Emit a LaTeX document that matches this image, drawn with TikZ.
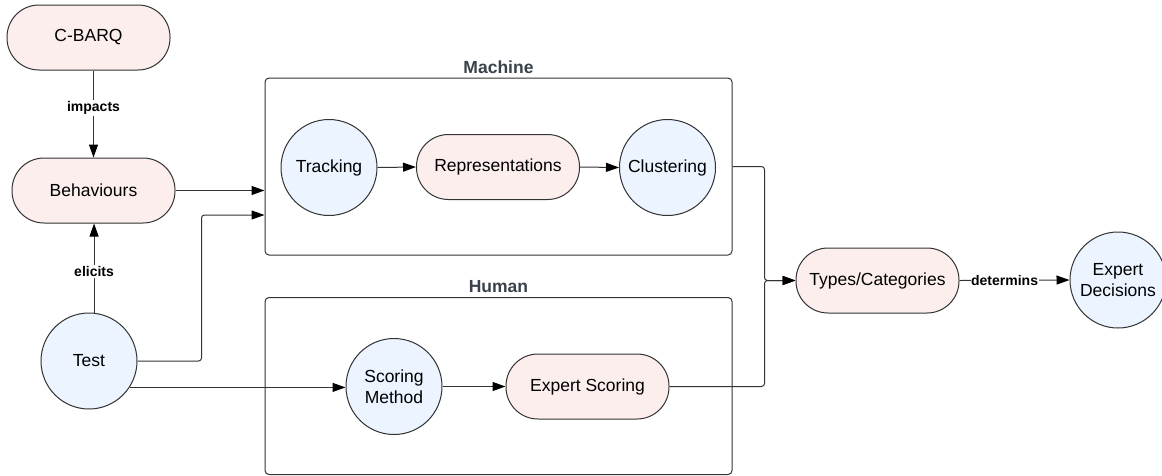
\documentclass[tikz,border=0pt]{standalone}
\usepackage{fontspec}
\setmainfont{Liberation Sans}
\usetikzlibrary{arrows.meta,calc}
\definecolor{pinkfill}{HTML}{FDEEEE}
\definecolor{bluefill}{HTML}{EBF4FF}
\definecolor{edgec}{HTML}{333333}
\definecolor{titlec}{HTML}{3A414A}
\begin{document}
\begin{tikzpicture}[x=1pt,y=-1pt,
  mainfont/.style={font=\fontsize{17.5}{21}\selectfont},
  stadium/.style={draw=edgec, line width=1pt, fill=pinkfill, rounded corners=32pt,
    minimum width=163pt, minimum height=65pt, inner sep=0pt, mainfont},
  circ/.style={circle, draw=edgec, line width=1pt, fill=bluefill, minimum size=96pt,
    inner sep=0pt, align=center, mainfont},
  grp/.style={draw=edgec, line width=1pt, rounded corners=4pt, minimum width=467pt,
    minimum height=177pt, inner sep=0pt},
  grptitle/.style={anchor=base, text=titlec, font=\bfseries\fontsize{17.5}{21}\selectfont},
  arr/.style={-{Triangle[length=13pt,width=9pt,fill=black,color=black]}, line width=1pt, draw=edgec},
  lbl/.style={fill=white, font=\bfseries\fontsize{14}{16}\selectfont, inner sep=1.5pt, text=black}]
\useasboundingbox (0,0) rectangle (1162,475);

% groups
\node[grp] (Machine) at (498.5,166.5) {};
\node[grp] (Human) at (498.5,386) {};
\node[grptitle] (MachineT) at ($(Machine.north)+(0,-4)$) {Machine};
\node[grptitle] (HumanT) at ($(Human.north)+(0,-5)$) {Human};

% nodes
\node[stadium] (CBARQ) at (88.5,37.5) {C-BARQ};
\node[stadium] (Beh) at (93.5,190.5) {Behaviours};
\node[circ] (Test) at (89,361) {Test};
\node[circ] (Track) at (329,167.5) {Tracking};
\node[stadium] (Rep) at (498,167) {Representations};
\node[circ] (Clust) at (667.5,167.5) {Clustering};
\node[circ] (SM) at (394,386.5) {Scoring\\Method};
\node[stadium] (ES) at (587.5,386.5) {Expert Scoring};
\node[stadium] (Types) at (877.5,280.5) {Types/Categories};
\node[circ] (ED) at (1118,280) {Expert\\Decisions};

% connectors
\draw[arr] (CBARQ.south -| Beh.north) -- node[lbl, pos=0.43] {impacts} (Beh.north);
\draw[arr] (Test.84) -- node[lbl, pos=0.46] {elicits} (Test.84 |- Beh.south);
\draw[arr] (Beh.east) -- (Beh.east -| Machine.west);
\coordinate (mIn2) at (Machine.west |- 0,215);
\draw[arr, rounded corners=3pt] (Test.east) -- ++(64,0) |- (mIn2);
\draw[arr] (Test.-33) -- (Test.-33 -| SM.west);
\draw[arr] (Track.east) -- (Rep.west);
\draw[arr] (Rep.east) -- (Clust.west);
\draw[arr] (SM.east) -- (ES.west);
\draw[arr, rounded corners=3pt] (Machine.east) -- ++(32,0) |- (Types.west);
\draw[arr, rounded corners=3pt] (ES.east) -- ++(95,0) |- (Types.west);
\draw[arr] (Types.east) -- node[lbl, pos=0.41, inner sep=0.5pt] {determins} (ED.west);
\end{tikzpicture}
\end{document}
